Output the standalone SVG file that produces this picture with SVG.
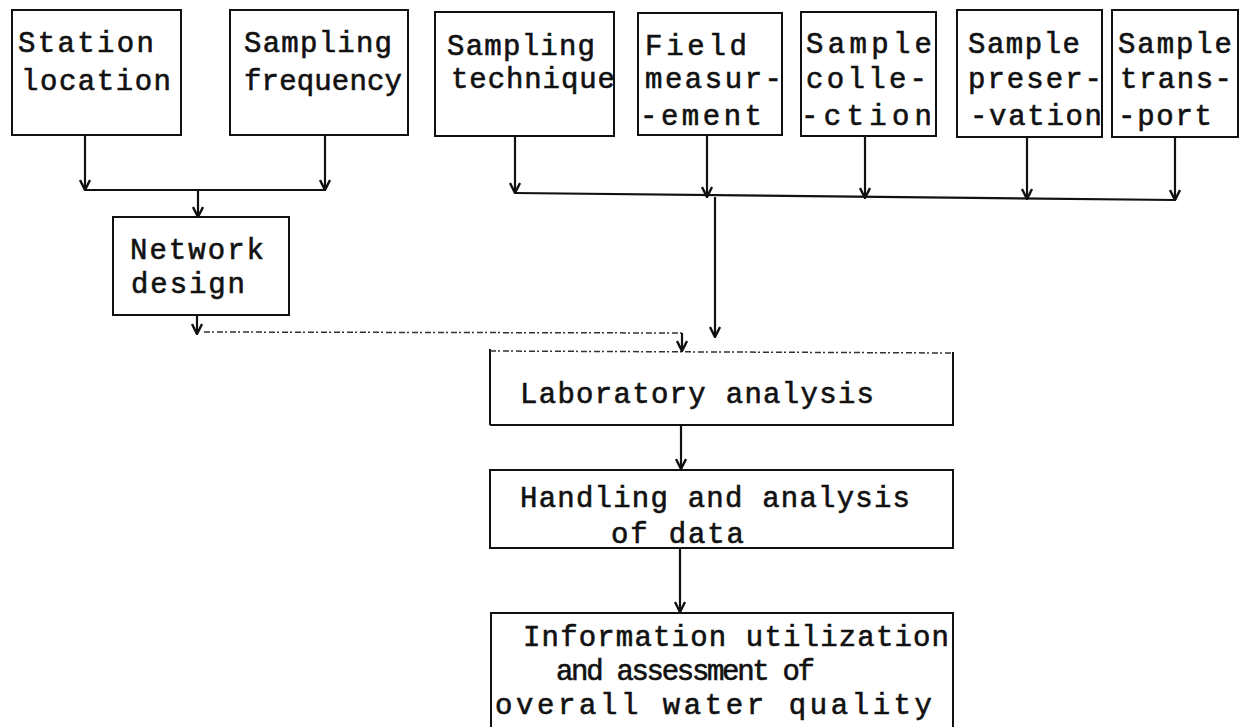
<svg xmlns="http://www.w3.org/2000/svg" width="1243" height="727" viewBox="0 0 1243 727">
<style>
.box{fill:none;stroke:#111;stroke-width:2}
.t{font-family:"Liberation Mono","DejaVu Sans Mono",monospace;font-size:29px;fill:#111;stroke:#111;stroke-width:0.6}
.c{fill:none;stroke:#111;stroke-width:2.2}
.d{fill:none;stroke:#333;stroke-width:1.5;stroke-dasharray:6 2 2 3}
</style>
<defs>
<marker id="ah" viewBox="0 0 12 12" refX="11" refY="6" markerUnits="userSpaceOnUse" markerWidth="12" markerHeight="12" orient="auto">
<path d="M1,1 L11,6 L1,11" fill="none" stroke="#111" stroke-width="2.4"/>
</marker>
</defs>
<rect width="1243" height="727" fill="#fff"/>
<g id="station-location">
<rect class="box" x="12" y="10" width="169" height="125"/>
<text class="t" x="18" y="52" textLength="136" lengthAdjust="spacing">Station</text>
<text class="t" x="21" y="90" textLength="150" lengthAdjust="spacing">location</text>
</g>
<g id="sampling-frequency">
<rect class="box" x="230" y="10" width="178" height="125"/>
<text class="t" x="244" y="52" textLength="148" lengthAdjust="spacing">Sampling</text>
<text class="t" x="244" y="90" textLength="158" lengthAdjust="spacing">frequency</text>
</g>
<g id="sampling-technique">
<rect class="box" x="435" y="12" width="179" height="124"/>
<text class="t" x="447" y="55" textLength="148" lengthAdjust="spacing">Sampling</text>
<text class="t" x="451" y="88" textLength="164" lengthAdjust="spacing">technique</text>
</g>
<g id="field-measurement">
<rect class="box" x="638" y="13" width="144" height="122"/>
<text class="t" x="645" y="55" textLength="102" lengthAdjust="spacing">Field</text>
<text class="t" x="645" y="88" textLength="137" lengthAdjust="spacing">measur-</text>
<text class="t" x="640" y="125" textLength="122" lengthAdjust="spacing">-ement</text>
</g>
<g id="sample-collection">
<rect class="box" x="801" y="12" width="135" height="124"/>
<text class="t" x="806" y="53" textLength="126" lengthAdjust="spacing">Sample</text>
<text class="t" x="806" y="88" textLength="121" lengthAdjust="spacing">colle-</text>
<text class="t" x="801" y="125" textLength="131" lengthAdjust="spacing">-ction</text>
</g>
<g id="sample-preservation">
<rect class="box" x="957" y="10" width="145" height="127"/>
<text class="t" x="968" y="53" textLength="112" lengthAdjust="spacing">Sample</text>
<text class="t" x="968" y="88" textLength="134" lengthAdjust="spacing">preser-</text>
<text class="t" x="970" y="125" textLength="132" lengthAdjust="spacing">-vation</text>
</g>
<g id="sample-transport">
<rect class="box" x="1112" y="10" width="126" height="127"/>
<text class="t" x="1118" y="53" textLength="114" lengthAdjust="spacing">Sample</text>
<text class="t" x="1120" y="88" textLength="112" lengthAdjust="spacing">trans-</text>
<text class="t" x="1118" y="125" textLength="94" lengthAdjust="spacing">-port</text>
</g>
<g id="network-design">
<rect class="box" x="113" y="217" width="176" height="98"/>
<text class="t" x="130" y="259" textLength="134" lengthAdjust="spacing">Network</text>
<text class="t" x="131" y="293" textLength="114" lengthAdjust="spacing">design</text>
</g>
<g id="laboratory-analysis">
<path class="box" d="M490,425 L490,349 M953,352 L953,425 L490,425"/>
<path class="d" d="M490,351 L953,353"/>
<text class="t" x="520" y="403" textLength="354" lengthAdjust="spacing">Laboratory analysis</text>
</g>
<g id="handling-analysis">
<rect class="box" x="490" y="470" width="463" height="78"/>
<text class="t" x="520" y="507" textLength="390" lengthAdjust="spacing">Handling and analysis</text>
<text class="t" x="611" y="543" textLength="133" lengthAdjust="spacing">of data</text>
</g>
<g id="information-utilization">
<path class="box" d="M491,728 L491,613 L953,613 L953,728"/>
<text class="t" x="523" y="646" textLength="426" lengthAdjust="spacing">Information utilization</text>
<text class="t" x="556" y="680" textLength="259" lengthAdjust="spacing">and assessment of</text>
<text class="t" x="495" y="714" textLength="437" lengthAdjust="spacing">overall water quality</text>
</g>
<g id="connectors">
<line class="c" x1="85" y1="135" x2="85" y2="190" marker-end="url(#ah)"/>
<line class="c" x1="325" y1="135" x2="325" y2="190" marker-end="url(#ah)"/>
<line class="c" x1="85" y1="190" x2="325" y2="190"/>
<line class="c" x1="198" y1="190" x2="198" y2="217" marker-end="url(#ah)"/>
<line class="c" x1="197" y1="315" x2="197" y2="334" marker-end="url(#ah)"/>
<line class="d" x1="204" y1="332" x2="682" y2="333"/>
<line class="c" x1="682" y1="333" x2="682" y2="351" marker-end="url(#ah)"/>
<line class="c" x1="515" y1="136" x2="515" y2="193" marker-end="url(#ah)"/>
<line class="c" x1="707" y1="135" x2="707" y2="197" marker-end="url(#ah)"/>
<line class="c" x1="865" y1="136" x2="865" y2="198" marker-end="url(#ah)"/>
<line class="c" x1="1027" y1="137" x2="1027" y2="199" marker-end="url(#ah)"/>
<line class="c" x1="1175" y1="137" x2="1175" y2="200" marker-end="url(#ah)"/>
<line class="c" x1="515" y1="193" x2="1175" y2="200"/>
<line class="c" x1="715" y1="197" x2="715" y2="337" marker-end="url(#ah)"/>
<line class="c" x1="681" y1="425" x2="681" y2="469" marker-end="url(#ah)"/>
<line class="c" x1="680" y1="548" x2="680" y2="612" marker-end="url(#ah)" stroke-width="3"/>
</g>
</svg>
